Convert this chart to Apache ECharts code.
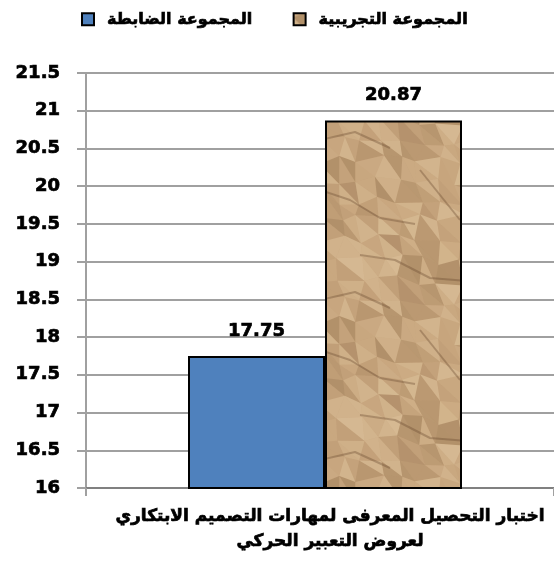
<!DOCTYPE html>
<html><head><meta charset="utf-8">
<script src="https://cdn.jsdelivr.net/npm/echarts@6/dist/echarts.min.js"></script>
<style>html,body{margin:0;padding:0;background:#fff}#c{width:554px;height:570px}</style>
</head><body><div id="c"></div>
<script>
const categories = ['اختبار التحصيل المعرفى لمهارات التصميم الابتكاري\nلعروض التعبير الحركي'];
const seriesNames = ['المجموعة الضابطة', 'المجموعة التجريبية'];
const controlValues = [17.75];
const experimentalValues = [20.87];
const spacerValues = ['-'];
const yMin = 16, yMax = 21.5, yStep = 0.5;

// crumpled paper texture (decorative only, deterministic facets)
function paperTexture() {
  const W = 160, H = 160, S = 20;
  const c = document.createElement('canvas');
  c.width = W; c.height = H;
  const g = c.getContext('2d');
  g.fillStyle = '#c7a57d';
  g.fillRect(0, 0, W, H);
  const h = (i, j, k) => { const v = Math.sin(i * 127.1 + j * 311.7 + k * 74.7) * 43758.5453; return v - Math.floor(v); };
  const n = W / S;
  const P = (i, j) => {
    const ii = ((i % n) + n) % n, jj = ((j % n) + n) % n;
    return [i * S + (h(ii, jj, 1) - 0.5) * 12, j * S + (h(ii, jj, 2) - 0.5) * 12];
  };
  for (let i = -1; i <= n; i++) {
    for (let j = -1; j <= n; j++) {
      const a = P(i, j), b = P(i + 1, j), d = P(i, j + 1), e = P(i + 1, j + 1);
      [[a, b, e], [a, e, d]].forEach((t, k) => {
        const s = h(((i % n) + n) % n, ((j % n) + n) % n, 3 + k);
        const light = s > 0.5;
        g.fillStyle = light ? 'rgba(232,210,172,' + ((s - 0.5) * 0.9).toFixed(2) + ')'
                            : 'rgba(120,88,55,' + ((0.5 - s) * 0.55).toFixed(2) + ')';
        g.beginPath(); g.moveTo(t[0][0], t[0][1]); g.lineTo(t[1][0], t[1][1]); g.lineTo(t[2][0], t[2][1]); g.closePath(); g.fill();
      });
    }
  }
  const cracks = [
    [[0,30],[30,40],[60,58],[95,64]], [[40,95],[75,100],[110,118],[160,122]],
    [[100,10],[120,35],[140,60]], [[0,140],[35,132],[70,148]]
  ];
  g.lineJoin = 'round';
  cracks.forEach(l => {
    g.strokeStyle = 'rgba(100,70,42,0.35)'; g.lineWidth = 2;
    g.beginPath(); g.moveTo(l[0][0], l[0][1]); l.slice(1).forEach(p => g.lineTo(p[0], p[1])); g.stroke();
  });
  return c;
}

const bold = {textBorderColor: '#000', textBorderWidth: 0.7};
const chart = echarts.init(document.getElementById('c'));
const labelStyle = Object.assign({show: true, position: 'top', distance: 16, color: '#000', fontFamily: 'DejaVu Sans', fontWeight: 'bold', fontSize: 18}, bold);
chart.setOption({
  animation: false,
  legend: {
    top: 6, left: 76,
    icon: 'rect',
    itemWidth: 12, itemHeight: 12, itemGap: 40,
    textStyle: Object.assign({fontFamily: 'DejaVu Sans', fontWeight: 'bold', fontSize: 16, color: '#000', padding: [0, 0, 0, 8]}, bold),
    data: seriesNames.map(n => ({name: n, itemStyle: {borderColor: '#000', borderWidth: 2}}))
  },
  grid: {left: 86, right: 0, top: 73, bottom: 82, containLabel: false},
  xAxis: {
    type: 'category', data: categories,
    axisLine: {lineStyle: {color: '#808080', width: 2}},
    axisTick: {show: true, length: 8, lineStyle: {color: '#a0a0a0', width: 2}},
    axisLabel: Object.assign({color: '#000', fontFamily: 'DejaVu Sans', fontWeight: 'bold', fontSize: 17, lineHeight: 25, margin: 16, padding: [0, 0, 0, 20]}, bold)
  },
  yAxis: {
    type: 'value', min: yMin, max: yMax, interval: yStep,
    axisLine: {show: true, lineStyle: {color: '#a0a0a0', width: 2}},
    axisTick: {show: true, inside: false, length: 9, lineStyle: {color: '#a0a0a0', width: 2}},
    splitLine: {lineStyle: {color: '#a0a0a0', width: 2}},
    axisLabel: Object.assign({color: '#000', fontFamily: 'DejaVu Sans', fontWeight: 'bold', fontSize: 18, margin: 26}, bold)
  },
  series: [
    {name: 'spacer', type: 'bar', data: spacerValues, barWidth: 10, barGap: '0%', silent: true,
     itemStyle: {color: 'rgba(0,0,0,0)'}},
    {name: seriesNames[0], type: 'bar', data: controlValues, barWidth: 137, barGap: '0%',
     itemStyle: {color: '#4f81bd', borderColor: '#000', borderWidth: 2}, label: labelStyle},
    {name: seriesNames[1], type: 'bar', data: experimentalValues, barWidth: 137, barGap: '0%',
     itemStyle: {color: {image: paperTexture(), repeat: 'repeat'}, borderColor: '#000', borderWidth: 2}, label: labelStyle}
  ]
});
</script></body></html>
